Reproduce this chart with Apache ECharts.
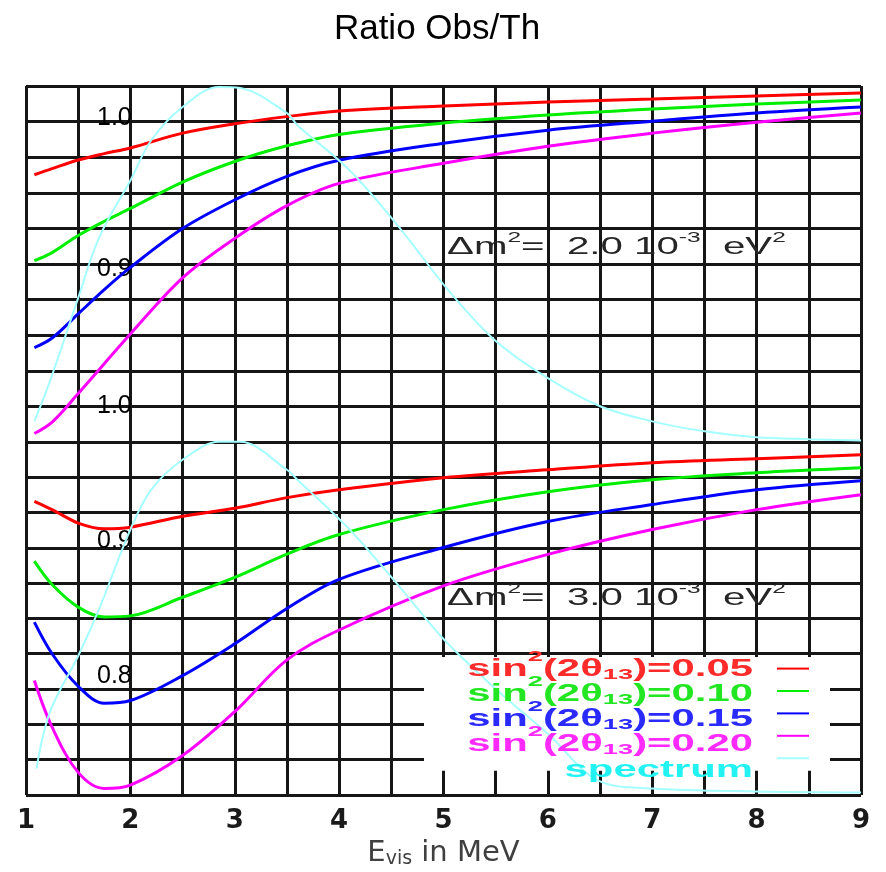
<!DOCTYPE html>
<html><head><meta charset="utf-8">
<script src="https://cdn.jsdelivr.net/npm/echarts@6/dist/echarts.min.js"></script>
<style>html,body{margin:0;padding:0;background:#fff}#c{width:886px;height:872px}</style>
</head><body><div id="c"></div>
<script>
// ---- data ----
const energy = [1.08, 1.25, 1.5, 1.75, 2.0, 2.5, 3.0, 3.5, 4.0, 5.0, 6.0, 7.0, 8.0, 9.0];
// Δm² = 2.0e-3 eV² (upper panel)
const up005 = [0.9627, 0.967, 0.973, 0.9775, 0.9815, 0.9919, 0.9985, 1.0035, 1.0074, 1.0109, 1.0137, 1.0158, 1.018, 1.020];
const up010 = [0.9023, 0.908, 0.920, 0.930, 0.939, 0.9575, 0.972, 0.983, 0.991, 0.999, 1.0046, 1.0088, 1.0123, 1.0151];
const up015 = [0.8412, 0.848, 0.865, 0.882, 0.8976, 0.9249, 0.945, 0.9615, 0.9728, 0.9848, 0.994, 1.0003, 1.006, 1.0102];
const up020 = [0.781, 0.789, 0.809, 0.830, 0.8509, 0.8903, 0.918, 0.941, 0.9566, 0.9707, 0.9827, 0.9919, 0.9996, 1.006];
const specEnergyUp = [1.08, 1.23, 1.5, 1.7, 2.0, 2.2, 2.5, 2.85, 3.05, 3.5, 3.6, 4.1, 4.6, 5.05, 5.5, 6.0, 6.5, 7.0, 7.5, 8.0, 8.5, 9.0];
const specUp = [0.7895, 0.8177, 0.8762, 0.9185, 0.9587, 0.9869, 1.0102, 1.0243, 1.0236, 1.006, 0.9975, 0.9658, 0.9235, 0.8812, 0.8459, 0.8198, 0.8001, 0.7895, 0.7825, 0.7783, 0.777, 0.7761];
// Δm² = 3.0e-3 eV² (lower panel)
const lo005 = [0.9329, 0.927, 0.9175, 0.9135, 0.9146, 0.9223, 0.928, 0.9355, 0.9411, 0.9496, 0.9552, 0.9602, 0.963, 0.9658];
const lo010 = [0.8906, 0.874, 0.858, 0.851, 0.8518, 0.865, 0.879, 0.8955, 0.9094, 0.927, 0.9397, 0.9482, 0.9531, 0.9566];
const lo015 = [0.8474, 0.825, 0.802, 0.790, 0.7919, 0.8095, 0.832, 0.857, 0.8777, 0.9002, 0.9186, 0.9306, 0.9411, 0.9475];
const lo020 = [0.806, 0.773, 0.741, 0.7296, 0.732, 0.7529, 0.784, 0.8206, 0.8418, 0.873, 0.8953, 0.9129, 0.927, 0.9376];
const specEnergyLo = [1.1, 1.23, 1.5, 1.7, 2.0, 2.2, 2.5, 2.85, 3.05, 3.5, 3.6, 4.1, 4.6, 5.0, 5.5, 6.0, 6.5, 7.0, 8.0, 9.0];
const specLo = [0.7437, 0.7839, 0.8234, 0.8565, 0.9129, 0.9411, 0.9623, 0.975, 0.975, 0.9552, 0.9482, 0.9129, 0.8706, 0.8354, 0.8001, 0.7684, 0.7346, 0.7296, 0.7275, 0.7268];

const upperTickLabels = ['1.0', '0.9'];
const lowerTickLabels = ['1.0', '0.9', '0.8'];
const sinLabels = ['0.05', '0.10', '0.15', '0.20'];
const dmLabels = ['2.0', '3.0'];
const seriesNames = ['0.05', '0.10', '0.15', '0.20', 'spectrum'];

// ---- styling ----
const lineColors = ['#ff0000', '#00ee00', '#0000ff', '#ff00ff', '#a6ffff'];
const textColors = ['#ff2a2a', '#22e622', '#2a2aff', '#ff2aff', '#22f2f2'];
const GRID = '#161616';
const F = 'Liberation Sans';
// small vertical nudges (px, negative = up) of the overlaid y labels
const upperLabelShift = [-3, 5];
const lowerLabelShift = [0, -7, -13];

const pair = (xs, ys) => xs.map((x, i) => [x, ys[i]]);
function mkSeries(name, xs, ys, idx, panel) {
  return {
    name, type: 'line', xAxisIndex: panel, yAxisIndex: panel,
    data: pair(xs, ys), smooth: 0.35, symbol: 'none', clip: true,
    lineStyle: { color: lineColors[idx], width: idx === 4 ? 2 : 3 },
    itemStyle: { color: lineColors[idx] }, z: 3
  };
}
const series = [
  mkSeries(seriesNames[0], energy, up005, 0, 0),
  mkSeries(seriesNames[1], energy, up010, 1, 0),
  mkSeries(seriesNames[2], energy, up015, 2, 0),
  mkSeries(seriesNames[3], energy, up020, 3, 0),
  mkSeries(seriesNames[4], specEnergyUp, specUp, 4, 0),
  mkSeries(seriesNames[0], energy, lo005, 0, 1),
  mkSeries(seriesNames[1], energy, lo010, 1, 1),
  mkSeries(seriesNames[2], energy, lo015, 2, 1),
  mkSeries(seriesNames[3], energy, lo020, 3, 1),
  mkSeries(seriesNames[4], specEnergyLo, specLo, 4, 1)
];

function yLabel(list, shifts) {
  const rich = {};
  shifts.forEach((s, i) => {
    rich['k' + i] = { fontSize: 25, fontFamily: F, color: '#000',
      padding: [Math.max(0, 2 * s), 0, Math.max(0, -2 * s), 0] };
  });
  return {
    inside: true, margin: 71, color: '#000', fontSize: 25, fontFamily: F, rich,
    formatter: v => {
      const s = v.toFixed(1);
      const i = list.indexOf(s);
      return (Math.abs(v - parseFloat(s)) < 1e-6 && i >= 0) ? '{k' + i + '|' + s + '}' : '';
    }
  };
}
const splitStyle = { show: true, lineStyle: { color: GRID, width: 3 } };
const yBase = {
  type: 'value', interval: 0.025,
  axisLine: { show: false }, axisTick: { show: false },
  splitLine: splitStyle
};
const xBase = {
  type: 'value', min: 1, max: 9, interval: 0.5,
  axisLine: { show: false }, axisTick: { show: false },
  splitLine: splitStyle
};

const sinText = v => '{t|sin}{sup|2}{t|(2θ}{sub|13}{t|)=' + v + '}';
const legRich = {
  t: { fontSize: 23, fontWeight: 'bold', fontFamily: F },
  sup: { fontSize: 15, fontWeight: 'bold', fontFamily: F, padding: [0, 0, 26, 0] },
  sub: { fontSize: 15, fontWeight: 'bold', fontFamily: F, padding: [10, 0, 0, 0] }
};
const legendRows = [670, 695, 720, 745, 771];
const legendTexts = sinLabels.map(sinText).concat(['{t|spectrum}']);
const legendGraphics = legendTexts.map((t, i) => ({
  type: 'text', x: 753, y: legendRows[i], scaleX: 1.82, z: 5,
  style: { text: t, x: 0, y: 0, fill: textColors[i], rich: legRich,
    align: 'right', textAlign: 'right', verticalAlign: 'middle', textVerticalAlign: 'middle' }
}));
const dmRich = {
  t: { fontSize: 23, fontFamily: F },
  sup: { fontSize: 14, fontFamily: F, padding: [0, 0, 20, 0] }
};
const dmRows = [248, 599];
const dmGraphics = dmLabels.map((d, i) => ({
  type: 'text', x: 447, y: dmRows[i], scaleX: 1.75, z: 1,
  style: { text: '{t|Δm}{sup|2}{t|=  ' + d + ' 10}{sup|-3}{t|  eV}{sup|2}', x: 0, y: 0,
    fill: '#262626', rich: dmRich,
    align: 'left', textAlign: 'left', verticalAlign: 'middle', textVerticalAlign: 'middle' }
}));

const option = {
  backgroundColor: '#fff',
  animation: false,
  title: {
    text: 'Ratio Obs/Th', left: 432, top: 7, textAlign: 'center',
    textStyle: { fontSize: 35, fontWeight: 'normal', fontFamily: F, color: '#000' }
  },
  grid: [
    { left: 26, right: 25, top: 86, height: 356 },
    { left: 26, right: 25, top: 406.5, height: 388.5 }
  ],
  xAxis: [
    Object.assign({}, xBase, { gridIndex: 0, axisLabel: { show: false } }),
    Object.assign({}, xBase, {
      gridIndex: 1,
      axisLabel: { show: true, margin: 13, color: '#1a1a1a', fontSize: 26, fontWeight: 'bold',
        fontFamily: 'DejaVu Sans', formatter: v => Number.isInteger(v) ? String(v) : '' },
      name: '{t|E}{sub|vis}{t| in MeV}', nameLocation: 'middle', nameGap: 43,
      nameTextStyle: {
        color: '#404040',
        rich: {
          t: { fontSize: 29, fontFamily: 'DejaVu Sans', color: '#404040' },
          sub: { fontSize: 19, fontFamily: 'DejaVu Sans', color: '#404040', padding: [12, 0, 0, 0] }
        }
      }
    })
  ],
  yAxis: [
    Object.assign({}, yBase, { gridIndex: 0, min: 0.775, max: 1.025,
      axisLabel: yLabel(upperTickLabels, upperLabelShift) }),
    Object.assign({}, yBase, { gridIndex: 1, min: 0.725, max: 1.0,
      axisLabel: yLabel(lowerTickLabels, lowerLabelShift) })
  ],
  legend: {
    data: seriesNames, orient: 'vertical', right: 56, top: 657,
    padding: [6, 20, 7, 348], itemWidth: 32, itemHeight: 14, itemGap: 11.2,
    align: 'right', formatter: () => '', textStyle: { fontSize: 12, lineHeight: 14 },
    backgroundColor: '#fff', itemStyle: { opacity: 0 }, selectedMode: false, z: 1
  },
  graphic: dmGraphics.concat(legendGraphics),
  series
};
const chart = echarts.init(document.getElementById('c'), null, { renderer: 'canvas' });
chart.setOption(option);
</script></body></html>
